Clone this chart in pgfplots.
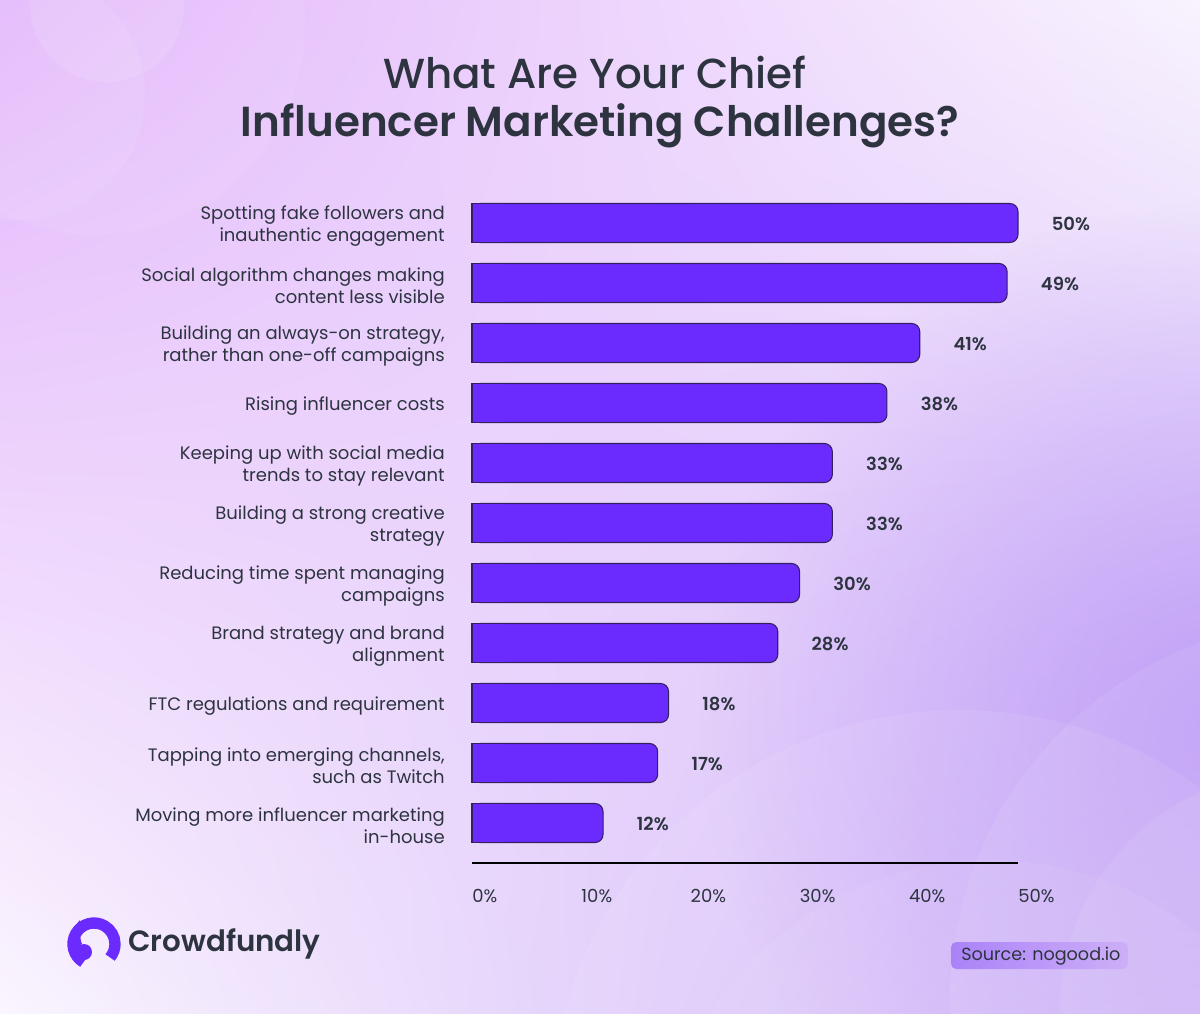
\documentclass[border=0pt]{standalone}
\usepackage{pgfplots}
\pgfplotsset{compat=1.18}
\usepackage{pgfplotstable}
\usetikzlibrary{shadings,fadings}
\usepackage{fontspec}
\setmainfont{Poppins}
\newfontfamily\pmed{Poppins Medium}
\newfontfamily\psemi{Poppins SemiBold}
\definecolor{barpurple}{HTML}{6B2BFF}
\definecolor{bardark}{HTML}{33205F}
\definecolor{txt}{HTML}{2D3440}
\definecolor{bgUL}{HTML}{E3B6FB}
\definecolor{bgUR}{HTML}{F8F3FE}
\definecolor{bgLL}{HTML}{FAF5FE}
\definecolor{bgLR}{HTML}{CDAEF8}
\definecolor{blob}{HTML}{B894F6}
\definecolor{srcbox}{HTML}{A67CF8}
\tikzfading[name=myfade, inner color=transparent!0, outer color=transparent!100]

\pgfplotstableread{
y val
10 50
9 49
8 41
7 38
6 33
5 33
4 30
3 28
2 18
1 17
0 12
}\datatable

\begin{document}
\begin{tikzpicture}
\begin{scope}[x=0.75pt,y=-0.75pt]
\useasboundingbox (0,0) rectangle (1200,1014);
\shade[upper left=bgUL, upper right=bgUR, lower left=bgLL, lower right=bgLR] (0,0) rectangle (1200,1014);
\begin{scope}
\clip (0,0) rectangle (1200,1014);
\fill[blob, path fading=myfade, opacity=0.75] (1220,720) circle (520);
\fill[white, opacity=0.10] (107,5) circle (77);
\fill[white, opacity=0.07] (20,95) circle (125);
\fill[white, opacity=0.06] (95,25) circle (210);
\fill[white, opacity=0.08] (960,1120) circle (410);
\fill[white, opacity=0.08] (1330,1000) circle (380);
\fill[white, opacity=0.08] (1300,1010) circle (240);
\fill[white, opacity=0.06] (990,1190) circle (330);
\end{scope}

% title
\node[text=txt, font={\pmed\fontsize{31.5pt}{36pt}\selectfont}] at (595,72) {What Are Your Chief};
\node[text=txt, font={\psemi\fontsize{31.5pt}{36pt}\selectfont}] at (600,126) {Influencer Marketing Challenges?};

% logo
\draw[barpurple, line width=8.5] (94,944) ++(120:21) arc (120:400:21);
\fill[barpurple] (84,952) circle (8);
\fill[barpurple] (80,920) .. controls (72,928) and (70,940) .. (76,948) -- (82,944) .. controls (79,936) and (80,928) .. (80,920);
\node[anchor=west, inner sep=0pt, text=txt, font={\psemi\fontsize{22pt}{26pt}\selectfont}] at (128,944) {Crowdfundly};

% source
\shade[rounded corners=4, left color=srcbox, right color=srcbox!0!bgLR, opacity=0.9] (951,942) rectangle (1128,969);
\node[anchor=west, inner sep=0pt, text=txt, font={\fontsize{13.2pt}{16.5pt}\selectfont}] at (961,956) {Source: nogood.io};
\end{scope}

\begin{axis}[
  at={(354pt,-647.25pt)}, anchor=south west,
  scale only axis, width=409.5pt, height=502.5pt,
  xmin=0, xmax=50, ymin=-0.6667, ymax=10.5,
  axis x line*=bottom, axis y line*=left,
  x axis line style={-, line width=2.2pt, black},
  y axis line style={draw=none},
  major tick length=0pt,
  xtick={0,10,20,30,40,50},
  xticklabels={0\%,10\%,20\%,30\%,40\%,50\%},
  xticklabel style={anchor=north west, inner sep=0pt, yshift=-19.5pt, text=txt, font={\fontsize{13.5pt}{16.5pt}\selectfont}},
  ytick={0,...,10},
  yticklabels={{Moving more influencer marketing\\in-house},
               {Tapping into emerging channels,\\such as Twitch},
               {FTC regulations and requirement},
               {Brand strategy and brand\\alignment},
               {Reducing time spent managing\\campaigns},
               {Building a strong creative\\strategy},
               {Keeping up with social media\\trends to stay relevant},
               {Rising influencer costs},
               {Building an always-on strategy,\\rather than one-off campaigns},
               {Social algorithm changes making\\content less visible},
               {Spotting fake followers and\\inauthentic engagement}},
  yticklabel style={anchor=east, align=right, inner sep=0pt, xshift=-20.25pt, yshift=-2.25pt, text=txt, font={\fontsize{13.5pt}{16.5pt}\selectfont}},
  clip=false,
  point meta=x,
  nodes near coords={\pgfmathprintnumber[assume math mode=true]{\pgfplotspointmeta}\%},
  every node near coord/.append style={anchor=west, inner sep=0pt, xshift=25pt, yshift=-1pt, text=txt, font={\psemi\fontsize{13.5pt}{16.5pt}\selectfont}},
]
\addplot[xbar, bar width=29.25pt, fill=barpurple, draw=bardark, line width=0.8pt, rounded corners=6pt] table[x=val, y=y] {\datatable};
\end{axis}

% square left ends of the bars: same data, clipped to the first 3 units
\begin{axis}[
  at={(352.362pt,-647.25pt)}, anchor=south west,
  scale only axis, width=26.208pt, height=502.5pt,
  xmin=-0.2, xmax=3, ymin=-0.6667, ymax=10.5,
  hide axis, clip=true,
]
\addplot[xbar, bar width=29.25pt, fill=barpurple, draw=bardark, line width=0.8pt] table[x=val, y=y] {\datatable};
\end{axis}
\end{tikzpicture}
\end{document}
